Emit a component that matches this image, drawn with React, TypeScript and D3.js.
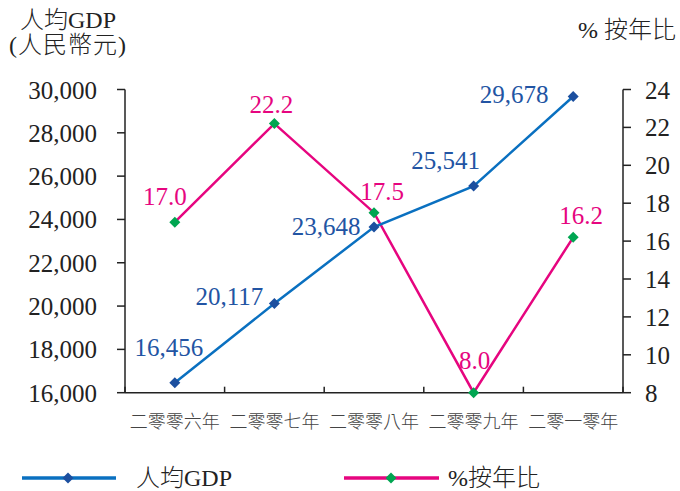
import React from "react";
import * as d3 from "d3";

// Per-capita GDP (RMB) and year-on-year growth (%), 2006–2010
const years = ["二零零六年", "二零零七年", "二零零八年", "二零零九年", "二零一零年"];
const gdpPerCapita = [16456, 20117, 23648, 25541, 29678];
const yoyGrowth = [17.0, 22.2, 17.5, 8.0, 16.2];
const leftTicks = [16000, 18000, 20000, 22000, 24000, 26000, 28000, 30000];
const rightTicks = [8, 10, 12, 14, 16, 18, 20, 22, 24];

// Label nudges (centre dx, baseline dy) relative to each point
const gdpLabelOffset = [
  [-6, -27],
  [-45, 1],
  [-48, 8],
  [-28, -17],
  [-59, 7],
];
const growthLabelOffset = [
  [-10, -17],
  [-3, -11],
  [8, -13],
  [1, -24],
  [8, -13],
];

const W = 680;
const H = 491;
const left = 125;
const right = 623;
const top = 89.5;
const bottom = 392.7;

const SERIF = "'Liberation Serif', 'Times New Roman', serif";
const CJK = "'Liberation Serif', 'Noto Sans CJK TC', 'Noto Sans CJK SC', serif";

const BLUE_LINE = "#0a70c0";
const BLUE_MARK = "#1c4f9f";
const BLUE_TEXT = "#2254a3";
const PINK = "#e6057f";
const GREEN = "#00a651";

function Diamond({ x, y, r, fill }: { x: number; y: number; r: number; fill: string }) {
  return (
    <path
      d={`M${x},${y - r}L${x + r},${y}L${x},${y + r}L${x - r},${y}Z`}
      fill={fill}
    />
  );
}

export default function App() {
  const x = d3.scaleBand<string>().domain(years).range([left, right]);
  const yL = d3.scaleLinear().domain([16000, 30000]).range([bottom, top]);
  const yR = d3.scaleLinear().domain([8, 24]).range([bottom, top]);
  const cx = (c: string) => (x(c) as number) + x.bandwidth() / 2;

  const gdpLine = d3
    .line<number>()
    .x((_, i) => cx(years[i]))
    .y((d) => yL(d));
  const growthLine = d3
    .line<number>()
    .x((_, i) => cx(years[i]))
    .y((d) => yR(d));

  const fmt = d3.format(",");
  const bandEdges = years.map((c) => x(c) as number).concat([right]);

  return (
    <svg
      width={W}
      height={H}
      style={{ position: "absolute", left: 0, top: 0, background: "#fff" }}
    >
      {/* axis titles */}
      <text x={20} y={28} fontFamily={CJK} fontSize={24} fontWeight={300} fill="#222">
        人均GDP
      </text>
      <text
        x={9}
        y={53}
        fontFamily={CJK}
        fontSize={24}
        fontWeight={300}
        letterSpacing={1}
        fill="#222"
      >
        (人民幣元)
      </text>
      <text x={578} y={38} fontFamily={CJK} fontSize={24} fontWeight={300} fill="#222">
        % 按年比
      </text>

      {/* left axis */}
      <line x1={left} x2={left} y1={top} y2={bottom} stroke="#222" strokeWidth={1.5} />
      {leftTicks.map((t) => (
        <g key={t}>
          <line x1={left - 8} x2={left} y1={yL(t)} y2={yL(t)} stroke="#222" strokeWidth={1.5} />
          <text
            x={97}
            y={yL(t) + 9}
            textAnchor="end"
            fontFamily={SERIF}
            fontSize={25}
            fill="#222"
          >
            {fmt(t)}
          </text>
        </g>
      ))}

      {/* right axis */}
      <line x1={right} x2={right} y1={top} y2={bottom} stroke="#222" strokeWidth={1.5} />
      {rightTicks.map((t) => (
        <g key={t}>
          <line x1={right} x2={right + 8} y1={yR(t)} y2={yR(t)} stroke="#222" strokeWidth={1.5} />
          <text x={645} y={yR(t) + 9} fontFamily={SERIF} fontSize={25} fill="#222">
            {t}
          </text>
        </g>
      ))}

      {/* category axis */}
      <line x1={left} x2={right} y1={bottom} y2={bottom} stroke="#222" strokeWidth={1.5} />
      {bandEdges.map((e, i) => (
        <line key={i} x1={e} x2={e} y1={bottom - 6} y2={bottom} stroke="#222" strokeWidth={1.5} />
      ))}
      {years.map((c) => (
        <text
          key={c}
          x={cx(c)}
          y={428}
          textAnchor="middle"
          fontFamily={CJK}
          fontSize={18}
          fontWeight={300}
          fill="#444"
        >
          {c}
        </text>
      ))}

      {/* growth series */}
      <path d={growthLine(yoyGrowth) || ""} fill="none" stroke={PINK} strokeWidth={2.5} />
      {/* GDP series */}
      <path d={gdpLine(gdpPerCapita) || ""} fill="none" stroke={BLUE_LINE} strokeWidth={2.5} />

      {yoyGrowth.map((v, i) => (
        <Diamond key={"g" + i} x={cx(years[i])} y={yR(v)} r={5.5} fill={GREEN} />
      ))}
      {gdpPerCapita.map((v, i) => (
        <Diamond key={"b" + i} x={cx(years[i])} y={yL(v)} r={5.5} fill={BLUE_MARK} />
      ))}

      {gdpPerCapita.map((v, i) => (
        <text
          key={"bl" + i}
          x={cx(years[i]) + gdpLabelOffset[i][0]}
          y={yL(v) + gdpLabelOffset[i][1]}
          textAnchor="middle"
          fontFamily={SERIF}
          fontSize={25}
          fill={BLUE_TEXT}
        >
          {fmt(v)}
        </text>
      ))}
      {yoyGrowth.map((v, i) => (
        <text
          key={"gl" + i}
          x={cx(years[i]) + growthLabelOffset[i][0]}
          y={yR(v) + growthLabelOffset[i][1]}
          textAnchor="middle"
          fontFamily={SERIF}
          fontSize={25}
          fill={PINK}
        >
          {v.toFixed(1)}
        </text>
      ))}

      {/* legend */}
      <line x1={22} x2={116} y1={478} y2={478} stroke={BLUE_LINE} strokeWidth={3.5} />
      <Diamond x={68} y={478} r={5.5} fill={BLUE_MARK} />
      <text x={136} y={486} fontFamily={CJK} fontSize={24} fontWeight={300} fill="#222">
        人均GDP
      </text>
      <line x1={344} x2={439} y1={478} y2={478} stroke={PINK} strokeWidth={3.5} />
      <Diamond x={391} y={478} r={5.5} fill={GREEN} />
      <text x={448} y={486} fontFamily={CJK} fontSize={24} fontWeight={300} fill="#222">
        %按年比
      </text>
    </svg>
  );
}
